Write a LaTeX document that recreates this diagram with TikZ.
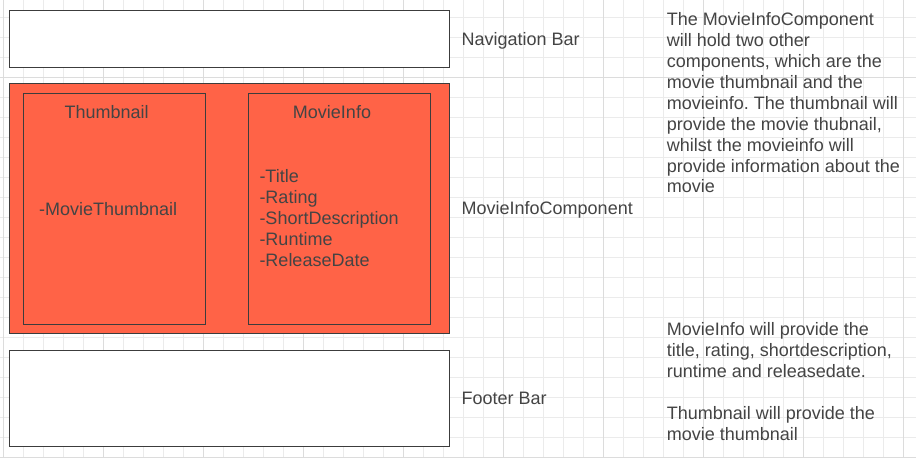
\documentclass[tikz,border=0pt]{standalone}
\usepackage{fontspec}
\setmainfont{Liberation Sans}
\frenchspacing
\definecolor{gridminor}{HTML}{EBEBEB}
\definecolor{gridmajor}{HTML}{DCDCDC}
\definecolor{strokec}{HTML}{3C3C3C}
\definecolor{textc}{HTML}{444444}
\definecolor{tomatofill}{HTML}{FF6347}
\begin{document}
\begin{tikzpicture}[x=1pt,y=-1pt,
  box/.style={draw=strokec, line width=1pt, rectangle, inner sep=0pt, anchor=north west},
  lbl/.style={anchor=base west, inner sep=0pt, text=textc, font=\fontsize{18}{21}\selectfont},
  clbl/.style={anchor=base, inner sep=0pt, text=textc, font=\fontsize{18}{21}\selectfont}
]
\useasboundingbox (0,0) rectangle (916,458);
\fill[white] (0,0) rectangle (916,458);
% grid
\foreach \k in {0,...,45} {
  \pgfmathsetmacro{\xx}{3+20*\k}
  \draw[gridminor, line width=1pt] (\xx,0) -- (\xx,458);
}
\foreach \k in {0,...,22} {
  \pgfmathsetmacro{\yy}{17+20*\k}
  \draw[gridminor, line width=1pt] (0,\yy) -- (916,\yy);
}
\foreach \k in {0,...,9} {
  \pgfmathsetmacro{\xx}{3+100*\k}
  \draw[gridmajor, line width=1pt] (\xx,0) -- (\xx,458);
}
\draw[gridmajor, line width=1pt] (0,77) -- (916,77);
\draw[gridmajor, line width=1pt] (0,457) -- (916,457);

% boxes
\node[box, fill=white, minimum width=440pt, minimum height=57pt] (nav) at (8.5,9.5) {};
\node[box, fill=tomatofill, minimum width=440pt, minimum height=250pt] (comp) at (8.5,82.5) {};
\node[box, minimum width=182pt, minimum height=231pt] (thumb) at (22.5,92.5) {};
\node[box, minimum width=182pt, minimum height=231pt] (info) at (247.5,92.5) {};
\node[box, fill=white, minimum width=440pt, minimum height=96pt] (footer) at (8.5,349.5) {};

% inner texts
\node[clbl] (thumbtitle) at (106.7,118.3) {Thumbnail};
\node[lbl] (thumbfield) at (39,215.5) {-MovieThumbnail};
\node[clbl] (infotitle) at (332,118.3) {MovieInfo};
\node[lbl] (infofields) at (259.3,182.7) {\parbox[t]{170pt}{\fontsize{18}{21}\selectfont\raggedright
-Title\\-Rating\\-ShortDescription\\-Runtime\\-ReleaseDate}};

% side labels
\node[lbl] (navlbl) at (461.5,45.5) {Navigation Bar};
\node[lbl] (complbl) at (461.5,214.5) {MovieInfoComponent};
\node[lbl] (footlbl) at (461.5,404.3) {Footer Bar};

% notes
\node[lbl] (note1) at (666.7,25.7) {\parbox[t]{250pt}{\fontsize{18}{20.9}\selectfont\raggedright
The MovieInfoComponent\\will hold two other\\components, which are the\\movie thumbnail and the\\movieinfo. The thumbnail will\\provide the movie thubnail,\\whilst the movieinfo will\\provide information about the\\movie}};
\node[lbl] (note2) at (666.7,335.7) {\parbox[t]{250pt}{\fontsize{18}{21}\selectfont\raggedright
MovieInfo will provide the\\title, rating, shortdescription,\\runtime and releasedate.\\[21pt]Thumbnail will provide the\\movie thumbnail}};
\end{tikzpicture}
\end{document}
